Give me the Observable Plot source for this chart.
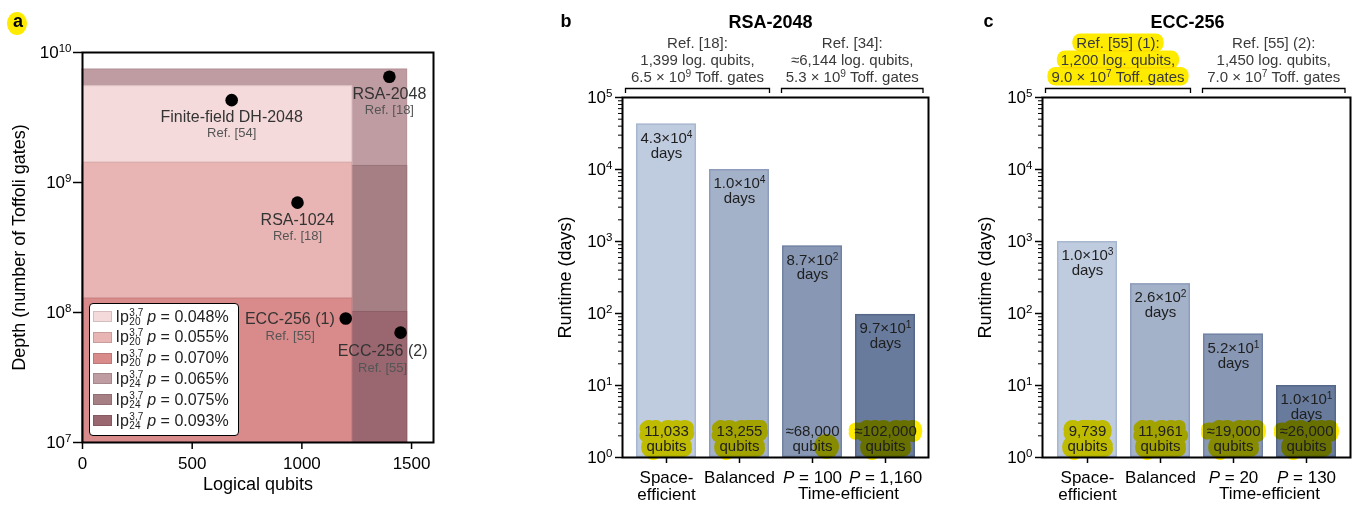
<!DOCTYPE html>
<html><head><meta charset="utf-8">
<script src="https://cdn.jsdelivr.net/npm/d3@7"></script>
<script src="https://cdn.jsdelivr.net/npm/@observablehq/plot@0.6"></script>
<style>
body{margin:0;background:#fff;font-family:"Liberation Sans",Arial,Helvetica,sans-serif;}
#root{position:relative;width:1357px;height:508px;overflow:hidden;background:#fff;}
.panel{position:absolute;top:0;}
.panel svg{overflow:visible;background:transparent;}
.letter{position:absolute;font-weight:bold;font-size:18px;line-height:18px;color:#000;}
.hl{position:absolute;background:#ffeb00;border-radius:50%;}
#legend{position:absolute;left:88.7px;top:302.7px;width:150px;height:133px;box-sizing:border-box;border:1.5px solid #000;border-radius:4px;background:#fff;padding:2.5px 0 0 3.8px;}
.lrow{display:flex;align-items:center;height:20.8px;font-size:16px;color:#222;white-space:nowrap;}
.sw{display:inline-block;width:19px;height:11px;border:1.2px solid;margin-right:3px;box-sizing:border-box;}
.ss{display:inline-flex;flex-direction:column;font-size:10px;line-height:9px;margin:0 4px 0 0.5px;}
</style></head>
<body><div id="root"></div>
<script>
const FONT = '"Liberation Sans", Arial, Helvetica, sans-serif';
const HL = "#ffeb00";

// ---------- Panel a data ----------
const regionCode = ["20", "20", "20", "24", "24", "24"];
const regionP = ["0.048%", "0.055%", "0.070%", "0.065%", "0.075%", "0.093%"];
const regionColor = ["#f5dadb", "#e8b4b4", "#d98a8a", "#bf9ca2", "#a67f85", "#9a6670"];
const regionQubits = [1230, 1230, 1230, 1480, 1480, 1480];
const regionToffoli = [5.5e9, 1.42e9, 1.28e8, 7.4e9, 1.34e9, 1.01e8];
const regionDrawOrder = [3, 0, 4, 1, 5, 2];

const algoNames = ["Finite-field DH-2048", "RSA-2048", "RSA-1024", "ECC-256 (1)", "ECC-256 (2)"];
const algoRefs = ["Ref. [54]", "Ref. [18]", "Ref. [18]", "Ref. [55]", "Ref. [55]"];
const algoQubits = [680, 1399, 980, 1200, 1450];
const algoToffoli = [4.3e9, 6.5e9, 7.0e8, 9.0e7, 7.0e7];
const aXTicks = [0, 500, 1000, 1500];
const aYTicks = [1e7, 1e8, 1e9, 1e10];

// ---------- Panel b data ----------
const bCategories = ["Space-efficient", "Balanced", "P = 100", "P = 1,160"];
const bTickLabels = ["Space-\nefficient", "Balanced", "*P* = 100", "*P* = 1,160"];
const bRuntime = [4.3e4, 1.0e4, 8.7e2, 9.7e1];
const bRuntimeLabel = ["4.3×10^{4}", "1.0×10^{4}", "8.7×10^{2}", "9.7×10^{1}"];
const bQubitLabel = ["11,033", "13,255", "≈68,000", "≈102,000"];
const bHighlight = ["full", "full", "partial", "full"];
const bRefs = [["Ref. [18]:", "1,399 log. qubits,", "6.5 × 10^{9} Toff. gates"],
               ["Ref. [34]:", "≈6,144 log. qubits,", "5.3 × 10^{9} Toff. gates"]];
const bRefHighlight = [false, false];

// ---------- Panel c data ----------
const cCategories = ["Space-efficient", "Balanced", "P = 20", "P = 130"];
const cTickLabels = ["Space-\nefficient", "Balanced", "*P* = 20", "*P* = 130"];
const cRuntime = [1.0e3, 2.6e2, 5.2e1, 1.0e1];
const cRuntimeLabel = ["1.0×10^{3}", "2.6×10^{2}", "5.2×10^{1}", "1.0×10^{1}"];
const cQubitLabel = ["9,739", "11,961", "≈19,000", "≈26,000"];
const cHighlight = ["full", "full", "full", "full"];
const cRefs = [["Ref. [55] (1):", "1,200 log. qubits,", "9.0 × 10^{7} Toff. gates"],
               ["Ref. [55] (2):", "1,450 log. qubits,", "7.0 × 10^{7} Toff. gates"]];
const cRefHighlight = [true, false];

const runtimeTicks = [1, 10, 100, 1e3, 1e4, 1e5];
const barColor = ["#bfcbdf", "#a3b1c9", "#8797b4", "#687b9c"];
const barStroke = ["#a8b7d0", "#8d9cba", "#7282a4", "#556889"];

// ---------- helpers ----------
const NS = "http://www.w3.org/2000/svg";
const pow10 = d => `10^{${Math.round(Math.log10(d))}}`;
function richify(root) {
  const els = [];
  if (root.matches && root.matches("text, tspan")) els.push(root);
  root.querySelectorAll("text, tspan").forEach(e => els.push(e));
  for (const el of els) {
    if (![...el.childNodes].every(n => n.nodeType === 3)) continue;
    const s = el.textContent;
    if (!/\^\{|_\{|\*[^*]+\*/.test(s)) continue;
    const parts = s.split(/(\^\{[^}]*\}|_\{[^}]*\}|\*[^*]+\*)/).filter(p => p !== "");
    el.textContent = "";
    for (const p of parts) {
      if (p.startsWith("^{")) {
        const t = document.createElementNS(NS, "tspan");
        t.setAttribute("font-size", "68%"); t.setAttribute("baseline-shift", "super");
        t.textContent = p.slice(2, -1); el.appendChild(t);
      } else if (p.startsWith("_{")) {
        const t = document.createElementNS(NS, "tspan");
        t.setAttribute("font-size", "68%"); t.setAttribute("baseline-shift", "sub");
        t.textContent = p.slice(2, -1); el.appendChild(t);
      } else if (p.startsWith("*") && p.endsWith("*") && p.length > 2) {
        const t = document.createElementNS(NS, "tspan");
        t.setAttribute("font-style", "italic");
        t.textContent = p.slice(1, -1); el.appendChild(t);
      } else el.appendChild(document.createTextNode(p));
    }
  }
}
const root = document.getElementById("root");
function addPanel(left, width) {
  const d = document.createElement("div");
  d.className = "panel"; d.style.left = left + "px"; d.style.width = width + "px";
  root.appendChild(d); return d;
}

// ---------- Panel a ----------
{
  const regions = regionDrawOrder.map(i => ({q: regionQubits[i], t: regionToffoli[i], fill: regionColor[i],
    stroke: d3.color(regionColor[i]).darker(0.25).formatHex()}));
  const pts = algoNames.map((n, i) => ({name: n, ref: algoRefs[i], q: algoQubits[i], t: algoToffoli[i]}));
  const below = pts.filter(d => ["Finite-field DH-2048", "RSA-2048", "RSA-1024"].includes(d.name));
  const left1 = pts.filter(d => d.name === "ECC-256 (1)");
  const below2 = pts.filter(d => d.name === "ECC-256 (2)");
  const nameStyle = {fontSize: 16, fill: "#333"};
  const refStyle = {fontSize: 13, fill: "#555"};
  const plot = Plot.plot({
    width: 450, height: 508, marginLeft: 82, marginRight: 17, marginTop: 52, marginBottom: 66,
    style: {fontFamily: FONT, fontSize: "17px", background: "transparent", color: "#000"},
    x: {domain: [0, 1600], label: null},
    y: {type: "log", domain: [1e7, 1e10], label: null},
    color: {type: "identity"},
    marks: [
      Plot.rect(regions, {x1: 0, x2: "q", y1: 1e7, y2: "t", fill: "fill", stroke: "stroke", strokeWidth: 1}),
      Plot.dot(pts, {x: "q", y: "t", r: 6.3, fill: "black"}),
      Plot.text(below, {x: "q", y: "t", text: "name", dy: 17, ...nameStyle}),
      Plot.text(below, {x: "q", y: "t", text: "ref", dy: 33, ...refStyle}),
      Plot.text(left1, {x: "q", y: "t", text: "name", dx: -11, textAnchor: "end", ...nameStyle}),
      Plot.text(left1, {x: "q", y: "t", text: "ref", dx: -31, dy: 17, textAnchor: "end", ...refStyle}),
      Plot.text(below2, {x: "q", y: "t", text: "name", dx: -18, dy: 18, ...nameStyle}),
      Plot.text(below2, {x: "q", y: "t", text: "ref", dx: -18, dy: 35, ...refStyle}),
      Plot.axisX(aXTicks, {tickSize: 7, tickPadding: 7, fontSize: 17, strokeWidth: 1.5, label: null, tickFormat: d => String(d)}),
      Plot.axisY(aYTicks, {tickSize: 9, tickPadding: 2, fontSize: 17, strokeWidth: 1.5, tickFormat: pow10, label: null}),
      Plot.frame({stroke: "black", strokeWidth: 2}),
      Plot.text(["Logical qubits"], {frameAnchor: "bottom", dy: 47, fontSize: 18, text: d => d}),
      Plot.text(["Depth (number of Toffoli gates)"], {frameAnchor: "left", dx: -63, rotate: -90, textAnchor: "middle", fontSize: 18, text: d => d})
    ]
  });
  addPanel(0, 450).appendChild(plot);
  richify(plot);
  // legend
  const lg = document.createElement("div"); lg.id = "legend";
  lg.innerHTML = regionP.map((p, i) =>
    `<div class="lrow"><span class="sw" style="background:${regionColor[i]};border-color:${d3.color(regionColor[i]).darker(0.4).formatHex()}"></span>` +
    `<span>Ip</span><span class="ss"><span>3,7</span><span>${regionCode[i]}</span></span><i>p</i>&nbsp;= ${p}</div>`).join("");
  root.appendChild(lg);
}

// ---------- Bar panels ----------
function barPanel({left, width, marginRight, cats, ticks, runtime, runtimeLabel, qubitLabel, highlight, refs, refHighlight, title, titleDx}) {
  const data = cats.map((c, i) => ({c, v: runtime[i], rl: runtimeLabel[i], ql: qubitLabel[i], hl: highlight[i],
    fill: barColor[i], stroke: barStroke[i]}));
  const mt = 97, mb = 51, ml = 82;
  const minor = [];
  for (let k = 0; k < 5; k++) for (let m = 2; m <= 9; m++) minor.push(m * 10 ** k);
  const txt = {fontSize: 15, fill: "#1e1e1e"};
  const plot = Plot.plot({
    width, height: 508, marginTop: mt, marginBottom: mb, marginLeft: ml, marginRight,
    style: {fontFamily: FONT, fontSize: "17px", background: "transparent", color: "#000"},
    x: {domain: cats, padding: 0.18, label: null},
    y: {type: "log", domain: [1, 1e5], label: null},
    color: {type: "identity"},
    marks: [
      Plot.barY(data, {x: "c", y1: 1, y2: "v", fill: "fill", stroke: "stroke", strokeWidth: 1.5, inset: 0.75}),
      Plot.text(data.filter(d => d.hl === "full"), {x: "c", y: () => 1, text: d => d.ql + "\nqubits", lineAnchor: "bottom",
        dy: -7, lineHeight: 1.0, fontSize: 15, fill: HL, stroke: HL, strokeWidth: 12, strokeLinejoin: "round", mixBlendMode: "multiply"}),
      Plot.dot(data.filter(d => d.hl === "partial"), {x: "c", y: () => 1, r: 12.5, dx: 14, dy: -11, fill: HL, mixBlendMode: "multiply"}),
      Plot.text(data, {x: "c", y: "v", text: d => d.rl + "\ndays", lineAnchor: "top", dy: 8, lineHeight: 1.0, ...txt}),
      Plot.text(data, {x: "c", y: () => 1, text: d => d.ql + "\nqubits", lineAnchor: "bottom", dy: -7, lineHeight: 1.0, ...txt}),
      Plot.axisY(runtimeTicks, {tickSize: 7, tickPadding: 3, fontSize: 17, strokeWidth: 1.5, tickFormat: pow10, label: null}),
      Plot.axisY(minor, {tickSize: 4, strokeWidth: 1, tickFormat: () => "", label: null}),
      Plot.axisX({tickSize: 6, tickPadding: 7, fontSize: 17, lineHeight: 1.0, strokeWidth: 1.5, label: null,
        tickFormat: d => ticks[cats.indexOf(d)]}),
      Plot.frame({stroke: "black", strokeWidth: 2}),
      Plot.text([title], {frameAnchor: "top", dy: -70, dx: titleDx, lineAnchor: "bottom", fontWeight: "bold", fontSize: 18, text: d => d}),
      Plot.text(["Runtime (days)"], {frameAnchor: "left", dx: -57, rotate: -90, textAnchor: "middle", fontSize: 18, text: d => d})
    ]
  });
  addPanel(left, width).appendChild(plot);
  richify(plot);
  const xs = plot.scale("x");
  const fl = ml, fr = width - marginRight;
  const mid = (xs.apply(cats[1]) + xs.bandwidth + xs.apply(cats[2])) / 2;
  const spans = [[fl + 3.5, mid - 6], [mid + 6, fr - 5]];
  const g = d3.select(plot).append("g").attr("font-family", FONT);
  spans.forEach(([x1, x2], k) => {
    g.append("path").attr("d", `M${x1},${mt - 4}V${mt - 8.5}H${x2}V${mt - 4}`)
      .attr("fill", "none").attr("stroke", "#000").attr("stroke-width", 1.3);
    const cx = (x1 + x2) / 2;
    refs[k].forEach((line, j) => {
      const t = g.append("text").attr("x", cx).attr("y", mt - 49 + j * 17).attr("text-anchor", "middle")
        .attr("font-size", 15).attr("fill", "#3a3a3a").text(line);
      richify(t.node());
      if (refHighlight[k]) {
        const bb = t.node().getBBox();
        const r = document.createElementNS(NS, "rect");
        r.setAttribute("x", bb.x - 4); r.setAttribute("y", bb.y - 0.5);
        r.setAttribute("width", bb.width + 8); r.setAttribute("height", bb.height + 1);
        r.setAttribute("rx", 8); r.setAttribute("fill", HL); r.setAttribute("style", "mix-blend-mode:multiply");
        t.node().parentNode.insertBefore(r, t.node());
      }
    });
  });
  const te = (xs.apply(cats[2]) + xs.apply(cats[3]) + xs.bandwidth) / 2;
  g.append("text").attr("x", te).attr("y", 499.3).attr("text-anchor", "middle").attr("font-size", 17).attr("fill", "#000").text("Time-efficient");
}

barPanel({left: 540, width: 400, marginRight: 12, cats: bCategories, ticks: bTickLabels, runtime: bRuntime,
  runtimeLabel: bRuntimeLabel, qubitLabel: bQubitLabel, highlight: bHighlight, refs: bRefs, refHighlight: bRefHighlight,
  title: "RSA-2048", titleDx: -5});
barPanel({left: 960, width: 397, marginRight: 7, cats: cCategories, ticks: cTickLabels, runtime: cRuntime,
  runtimeLabel: cRuntimeLabel, qubitLabel: cQubitLabel, highlight: cHighlight, refs: cRefs, refHighlight: cRefHighlight,
  title: "ECC-256", titleDx: -9});

// ---------- panel letters ----------
const hl = document.createElement("div"); hl.className = "hl";
Object.assign(hl.style, {left: "6.7px", top: "11.7px", width: "20.6px", height: "23px"});
root.appendChild(hl);
[["a", 13], ["b", 560.5], ["c", 983.5]].forEach(([s, x]) => {
  const d = document.createElement("div"); d.className = "letter"; d.textContent = s;
  d.style.left = x + "px"; d.style.top = "11.5px"; root.appendChild(d);
});
</script></body></html>
